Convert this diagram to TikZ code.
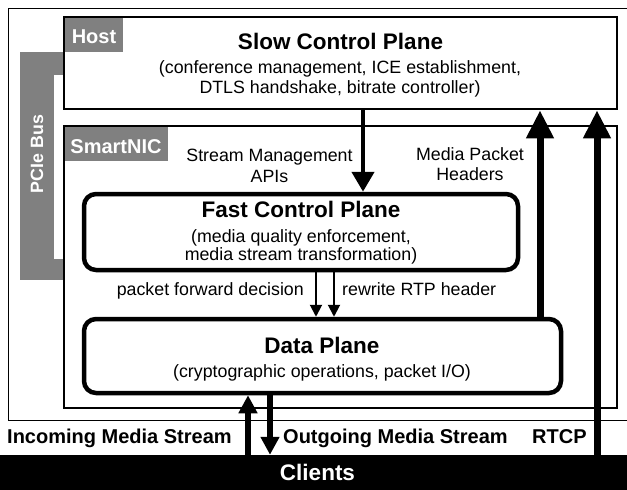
\documentclass[tikz,border=0pt]{standalone}
\usepackage{fontspec}
\setmainfont{Liberation Sans}
\usetikzlibrary{arrows.meta}
\definecolor{labelgray}{RGB}{128,128,128}
\begin{document}
\begin{tikzpicture}[x=1pt,y=-1pt,
  txt/.style={font=\fontsize{17.8}{20}\selectfont, inner sep=0pt, anchor=base},
  ttl/.style={font=\fontsize{22.5}{26}\selectfont\bfseries, inner sep=0pt, anchor=base},
  lbl/.style={font=\fontsize{20}{24}\selectfont\bfseries, inner sep=0pt, anchor=base},
  plane/.style={draw, line width=2.5pt, inner sep=0pt},
  rplane/.style={draw, line width=4.5pt, rounded corners=12pt, inner sep=0pt},
  tagbox/.style={fill=labelgray, inner sep=0pt},
  bigarrow/.style={line width=7pt, -{Triangle[length=28pt,width=26pt]}},
  midarrow/.style={line width=5.5pt, -{Triangle[length=18pt,width=18pt]}},
  ctlarrow/.style={line width=4.5pt, -{Triangle[length=20pt,width=22pt]}},
  thinarrow/.style={line width=2pt, -{Triangle[length=12pt,width=12pt]}}
]
\useasboundingbox (0,0) rectangle (627,490);

% outer frame
\draw[line width=1pt] (627,8) -- (8,8) -- (8,420) -- (627,420);

% PCIe bus
\fill[labelgray] (20,52) rectangle (54,280);
\fill[labelgray] (54,52) rectangle (64,75);
\fill[labelgray] (54,259) rectangle (64,280);
\node (pcie) [rotate=90, text=white, font=\fontsize{17.8}{20}\selectfont\bfseries, inner sep=0pt] at (37,154) {PCIe Bus};

% tag boxes
\fill[labelgray] (64,17) rectangle (123,52);
\fill[labelgray] (64,126) rectangle (168,161);

% Host / Slow control plane
\node (host) [plane, minimum width=553pt, minimum height=92pt] at (340.5,63) {};
\node (hosttag) [lbl, text=white] at (94,43) {Host};
\node (slowt) [ttl] at (340.5,49) {Slow Control Plane};
\node (slows1) [txt] at (340,73) {(conference management, ICE establishment,};
\node (slows2) [txt] at (340,93) {DTLS handshake, bitrate controller)};

% SmartNIC
\node (nic) [plane, minimum width=553pt, minimum height=282pt] at (340.5,267) {};
\node (nictag) [lbl, text=white] at (116,153) {SmartNIC};

\node (sm1) [txt] at (269.5,161) {Stream Management};
\node (sm2) [txt] at (269.5,182) {APIs};
\node (mp1) [txt] at (470,160) {Media Packet};
\node (mp2) [txt] at (470,180) {Headers};

% Fast control plane
\node (fast) [rplane, minimum width=434pt, minimum height=76pt] at (301,232) {};
\node (fastt) [ttl] at (301,217) {Fast Control Plane};
\node (fasts1) [txt] at (301,242) {(media quality enforcement,};
\node (fasts2) [txt] at (301,260) {media stream transformation)};

% Data plane
\node (data) [rplane, minimum width=477pt, minimum height=74pt] at (322.5,356) {};
\node (datat) [ttl] at (322,353) {Data Plane};
\node (datas) [txt] at (322,377) {(cryptographic operations, packet I/O)};

\node (pfd) [txt, anchor=base east] at (304,295) {packet forward decision};
\node (rrh) [txt, anchor=base west] at (342,295) {rewrite RTP header};

% Clients
\node (clients) [fill=black, minimum width=627pt, minimum height=35pt, inner sep=0pt] at (313.5,472.5) {};
\node (clientst) [ttl, text=white] at (317.5,480) {Clients};

\node (inc) [lbl, anchor=base west] at (7,443) {Incoming Media Stream};
\node (outg) [lbl, anchor=base west] at (283,443) {Outgoing Media Stream};
\node (rtcp) [lbl, anchor=base west] at (532,443) {RTCP};

% x positions
\coordinate (xa) at (363,0);
\coordinate (xb) at (316,0);
\coordinate (xc) at (334,0);
\coordinate (xd) at (540,0);
\coordinate (xe) at (597,0);
\coordinate (xf) at (248,0);
\coordinate (xg) at (270,0);

% connectors
\draw[ctlarrow] (host.south -| xa) -- (fast.north -| xa);
\draw[thinarrow] (fast.south -| xb) -- (data.north -| xb);
\draw[thinarrow] (fast.south -| xc) -- (data.north -| xc);
\draw[bigarrow] (data.north -| xd) -- (host.south -| xd);
\draw[bigarrow] (clients.north -| xe) -- (host.south -| xe);
\draw[midarrow] (clients.north -| xf) -- (data.south -| xf);
\draw[midarrow] (data.south -| xg) -- (clients.north -| xg);
\end{tikzpicture}
\end{document}
